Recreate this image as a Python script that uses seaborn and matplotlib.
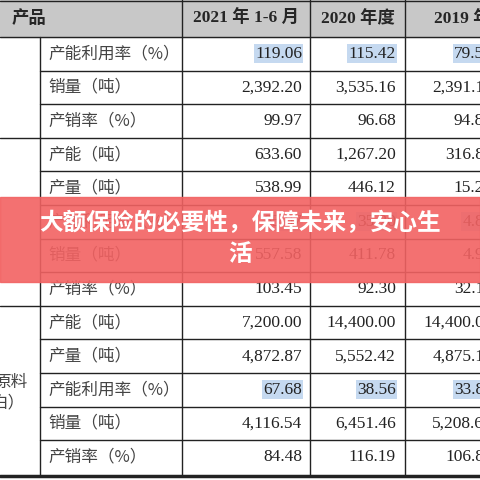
import matplotlib.pyplot as plt
import seaborn as sns
from matplotlib.patches import Rectangle

sns.set_theme(style="white")
plt.rcParams['font.family'] = ['Liberation Serif', 'Noto Sans CJK SC', 'DejaVu Sans']

# table data
headers = ["产品", "2021 年 1-6 月", "2020 年度", "2019 年度"]
items = ["产能利用率（%）", "销量（吨）", "产销率（%）",
         "产能（吨）", "产量（吨）", "产能利用率（%）", "销量（吨）", "产销率（%）",
         "产能（吨）", "产量（吨）", "产能利用率（%）", "销量（吨）", "产销率（%）"]
v2021 = ["119.06", "2,392.20", "99.97", "633.60", "538.99", "85.07", "557.58", "103.45",
         "7,200.00", "4,872.87", "67.68", "4,116.54", "84.48"]
v2020 = ["115.42", "3,535.16", "96.68", "1,267.20", "446.12", "35.20", "411.78", "92.30",
         "14,400.00", "5,552.42", "38.56", "6,451.46", "116.19"]
v2019 = ["79.54", "2,391.13", "94.84", "316.80", "15.21", "4.80", "4.93", "32.11",
         "14,400.00", "4,875.17", "33.85", "5,208.62", "106.87"]
highlight = [0, 5, 10]
group_breaks = [3, 8]

fig = plt.figure(figsize=(4.8, 4.8), dpi=100)
ax = fig.add_axes([0, 0, 1, 1])
ax.set_xlim(0, 480)
ax.set_ylim(480, 0)
ax.axis("off")

top, rh = 37, 33.6
cols = [0, 40, 182, 310, 405, 520]
right = [302, 396, 493]
lc = "#222222"
cjk = ['Noto Sans CJK SC', 'DejaVu Sans']

ax.add_patch(Rectangle((0, 0), 480, top, color="#c8c8c8", zorder=0))
ax.plot([0, 480], [1, 1], color=lc, lw=1)
ax.plot([0, 480], [top, top], color=lc, lw=1)
for x in cols[2:5]:
    ax.plot([x, x], [0, 476], color=lc, lw=1)
ax.plot([cols[1], cols[1]], [top, 476], color=lc, lw=1)
for i in range(1, len(items)):
    y = top + i * rh
    x0 = 0 if i in group_breaks else cols[1]
    ax.plot([x0, 480], [y, y], color=lc, lw=1)
ax.plot([0, 480], [476, 476], color=lc, lw=2.5)

ax.text(12, top / 2, headers[0], ha="left", va="center", fontsize=12.5, weight="bold")
for j, h in enumerate(headers[1:]):
    cx = (cols[j + 2] + cols[j + 3]) / 2 + (8 if j == 2 else 0)
    ax.text(cx, top / 2, h, ha="center", va="center", fontsize=12.5, weight="bold")

for i, name in enumerate(items):
    cy = top + (i + 0.5) * rh
    ax.text(48, cy, name, ha="left", va="center", fontsize=12, color="#444444", family=cjk)
    for j, vals in enumerate([v2021, v2020, v2019]):
        t = ax.text(right[j], cy, vals[i], ha="right", va="center", fontsize=12.5, color="#222222")
        if i in highlight:
            t.set_bbox(dict(facecolor="#c5d9f0", edgecolor="none", pad=1))

ax.text(-6, 383, "原料", ha="left", va="center", fontsize=12, color="#444444", family=cjk)
ax.text(-8, 403, "白）", ha="left", va="center", fontsize=12, color="#444444", family=cjk)

# banner
ax.add_patch(Rectangle((0, 197), 480, 85, color="#f26262", alpha=0.9, zorder=5))
ax.text(240, 223, "大额保险的必要性，保障未来，安心生", ha="center", va="center", fontsize=17,
        weight="bold", color="white", zorder=6, family=cjk)
ax.text(240, 254, "活", ha="center", va="center", fontsize=17,
        weight="bold", color="white", zorder=6, family=cjk)

fig.savefig("out.png", dpi=100)
